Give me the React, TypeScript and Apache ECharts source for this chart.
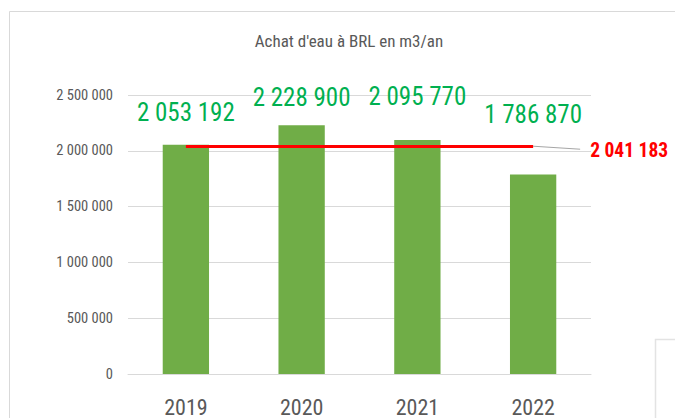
import React, { useEffect, useRef } from "react";
import * as echarts from "echarts";

const years = ["2019", "2020", "2021", "2022"];
const volumes = [2053192, 2228900, 2095770, 1786870];
const average = 2041183;
const labelGaps = [20, 15, 31, 48];
const titleText = "Achat d'eau à BRL en m3/an";

const FONT = "'Liberation Sans Narrow', 'Roboto Condensed', 'DejaVu Sans Condensed', Roboto, sans-serif";

const fmt = (n: number) => String(n).replace(/\B(?=(\d{3})+(?!\d))/g, " ");

export default function App() {
  const ref = useRef<HTMLDivElement>(null);
  useEffect(() => {
    if (!ref.current) return;
    const chart = echarts.init(ref.current, null, { renderer: "svg" });
    chart.setOption({
      animation: false,
      backgroundColor: "#ffffff",
      title: {
        text: titleText,
        left: 344,
        top: 27,
        textAlign: "center",
        textStyle: { fontFamily: FONT, fontSize: 17, fontWeight: "normal", color: "#595959" },
      },
      grid: { left: 128, right: 84, top: 95, bottom: 44, containLabel: false },
      xAxis: {
        type: "category",
        data: years,
        axisLine: { lineStyle: { color: "#D9D9D9", width: 1 } },
        axisTick: { show: false },
        axisLabel: { fontFamily: FONT, fontSize: 22, color: "#595959", margin: 22 },
      },
      yAxis: {
        type: "value",
        min: 0,
        max: 2500000,
        interval: 500000,
        axisLine: { show: false },
        axisTick: { show: false },
        splitLine: { lineStyle: { color: "#D9D9D9", width: 1 } },
        axisLabel: { fontFamily: FONT, fontSize: 14.5, color: "#595959", margin: 15, formatter: (v: number) => fmt(v) },
      },
      series: [
        {
          type: "bar",
          barWidth: "40%",
          itemStyle: { color: "#70AD47" },
          data: volumes.map((v, i) => ({ value: v, label: { distance: labelGaps[i] } })),
          label: {
            show: true,
            position: "top",
            fontFamily: FONT,
            fontSize: 25,
            color: "#00B050",
            formatter: (p: any) => fmt(p.value),
          },
          markLine: {
            silent: true,
            symbol: "none",
            label: { show: false },
            lineStyle: { color: "#FF0000", width: 3, type: "solid" },
            data: [[{ coord: [years[0], average] }, { coord: [years[years.length - 1], average] }]],
          },
        },
      ],
      graphic: [
        { type: "rect", id: "frame", shape: { x: 9.5, y: 11.5, width: 720, height: 440 }, style: { fill: "none", stroke: "#D9D9D9", lineWidth: 1 }, silent: true },
        { type: "rect", id: "box", shape: { x: 655.5, y: 339.5, width: 100, height: 100 }, style: { fill: "none", stroke: "#E3E3E3", lineWidth: 1.5 }, silent: true },
      ],
    });
    const p = chart.convertToPixel({ seriesIndex: 0 }, [years.length - 1, average]) as number[];
    chart.setOption({
      graphic: [
        { type: "line", id: "leader", shape: { x1: p[0], y1: p[1], x2: p[0] + 47, y2: p[1] + 3 }, style: { stroke: "#A6A6A6", lineWidth: 1 }, silent: true },
        {
          type: "text",
          id: "avgLabel",
          x: p[0] + 57,
          y: p[1] + 4,
          style: { text: fmt(average), fontFamily: FONT, fontSize: 19.5, fontWeight: "bold", fill: "#FF0000", textVerticalAlign: "middle", verticalAlign: "middle" },
          silent: true,
        },
      ],
    });
    return () => chart.dispose();
  }, []);
  return <div ref={ref} style={{ position: "fixed", left: 0, top: 0, width: 675, height: 418 }} />;
}
